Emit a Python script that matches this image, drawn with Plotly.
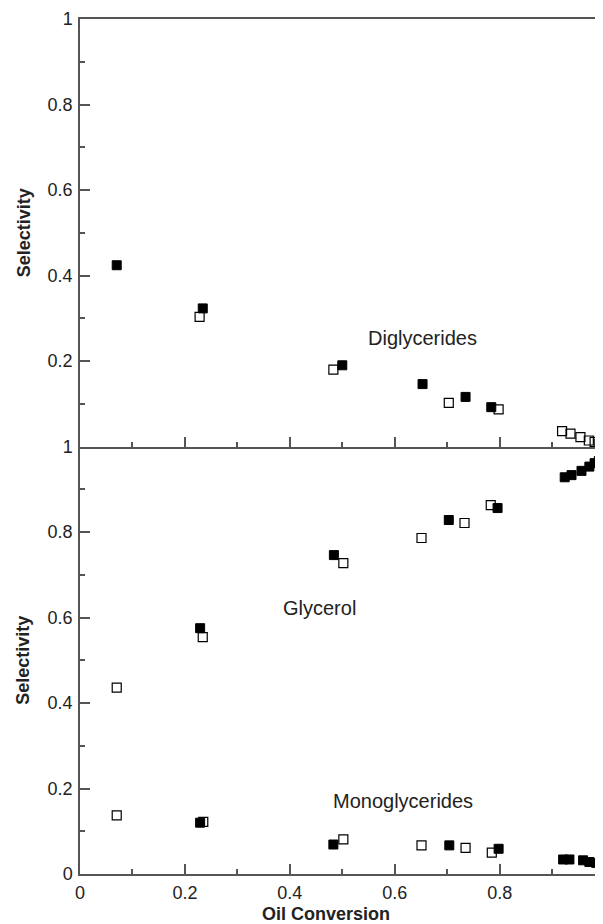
import plotly.graph_objects as go

# ---- data ----
di_filled_x = [0.070, 0.234, 0.500, 0.653, 0.735, 0.784]
di_filled_y = [0.424, 0.323, 0.190, 0.146, 0.116, 0.092]
di_open_x = [0.228, 0.483, 0.703, 0.798, 0.919, 0.935, 0.954, 0.970, 0.981, 0.990]
di_open_y = [0.303, 0.180, 0.102, 0.087, 0.036, 0.030, 0.022, 0.014, 0.011, 0.007]

gly_filled_x = [0.229, 0.484, 0.703, 0.796, 0.924, 0.937, 0.956, 0.971, 0.981, 0.989]
gly_filled_y = [0.575, 0.746, 0.828, 0.856, 0.928, 0.933, 0.943, 0.953, 0.961, 0.966]
gly_open_x = [0.070, 0.234, 0.502, 0.651, 0.733, 0.783]
gly_open_y = [0.436, 0.554, 0.727, 0.786, 0.821, 0.863]

mono_filled_x = [0.229, 0.483, 0.704, 0.798, 0.921, 0.933, 0.959, 0.971, 0.984]
mono_filled_y = [0.120, 0.069, 0.067, 0.059, 0.034, 0.034, 0.032, 0.028, 0.026]
mono_open_x = [0.070, 0.235, 0.502, 0.651, 0.735, 0.785]
mono_open_y = [0.137, 0.122, 0.081, 0.067, 0.061, 0.050]

top_ticks = [0.2, 0.4, 0.6, 0.8, 1.0]
bottom_ticks = [0, 0.2, 0.4, 0.6, 0.8, 1.0]
x_ticks = [0, 0.2, 0.4, 0.6, 0.8]

FONT = "Liberation Sans, Arial, sans-serif"
AX = "#555555"
TXT = "#222222"

filled = dict(symbol="square", size=9, color="black", line=dict(color="black", width=1))
hollow = dict(symbol="square-open", size=9, color="black", line=dict(color="black", width=1.2))

fig = go.Figure()

def add(x, y, marker, xa, ya):
    fig.add_trace(go.Scatter(x=x, y=y, mode="markers", marker=marker,
                             xaxis=xa, yaxis=ya, showlegend=False, cliponaxis=False))

add(di_filled_x, di_filled_y, filled, "x2", "y2")
add(di_open_x, di_open_y, hollow, "x2", "y2")
add(gly_filled_x, gly_filled_y, filled, "x", "y")
add(gly_open_x, gly_open_y, hollow, "x", "y")
add(mono_filled_x, mono_filled_y, filled, "x", "y")
add(mono_open_x, mono_open_y, hollow, "x", "y")

xr = [0, 0.997]
common_axis = dict(showline=True, linecolor=AX, linewidth=1.5, showgrid=False, zeroline=False,
                   ticks="inside", ticklen=10, tickwidth=1.5, tickcolor=AX,
                   tickfont=dict(family=FONT, size=18, color=TXT))
minor = dict(ticks="inside", ticklen=5, tickwidth=1.5, tickcolor=AX, dtick=0.1, tick0=0)

# page body has an 8px margin; compensate so the plot area lands where the reference has it
fig.update_layout(
    width=595, height=916,
    margin=dict(l=71.5, r=0, t=10.5, b=49.5),
    paper_bgcolor="white", plot_bgcolor="white",
    xaxis=dict(domain=[0, 1], range=xr, anchor="y", tickvals=x_ticks,
               ticktext=["0", "0.2", "0.4", "0.6", "0.8"], ticklabelstandoff=2,
               minor=minor, **common_axis),
    yaxis=dict(domain=[0, 0.5], range=[0, 1], anchor="x", tickvals=bottom_ticks,
               ticktext=["0", "0.2", "0.4", "0.6", "0.8", "1"], ticklabelstandoff=2,
               minor=minor, **common_axis),
    xaxis2=dict(domain=[0, 1], range=xr, anchor="y2", tickvals=x_ticks, showticklabels=False,
                mirror=True, minor=minor, **common_axis),
    yaxis2=dict(domain=[0.5, 1], range=[0, 1], anchor="x2", tickvals=top_ticks,
                ticktext=["0.2", "0.4", "0.6", "0.8", "1"], ticklabelstandoff=2,
                minor=minor, **common_axis),
)

ann_font = dict(family=FONT, size=20, color=TXT)
title_font = dict(family=FONT, size=18, color=TXT)
fig.add_annotation(x=0.653, y=0.253, xref="x2", yref="y2", text="Diglycerides",
                   showarrow=False, font=ann_font)
fig.add_annotation(x=0.457, y=0.622, xref="x", yref="y", text="Glycerol",
                   showarrow=False, font=ann_font)
fig.add_annotation(x=0.615, y=0.170, xref="x", yref="y", text="Monoglycerides",
                   showarrow=False, font=ann_font)
fig.add_annotation(x=-0.108, y=0.75, xref="paper", yref="paper", text="<b>Selectivity</b>",
                   textangle=-90, showarrow=False, xanchor="center", yanchor="middle", font=title_font)
fig.add_annotation(x=-0.108, y=0.25, xref="paper", yref="paper", text="<b>Selectivity</b>",
                   textangle=-90, showarrow=False, xanchor="center", yanchor="middle", font=title_font)
fig.add_annotation(x=0.471, y=0, xref="paper", yref="paper", text="<b>Oil Conversion</b>",
                   showarrow=False, xanchor="center", yanchor="middle", yshift=-40, font=title_font)

fig.write_html("out.html")
